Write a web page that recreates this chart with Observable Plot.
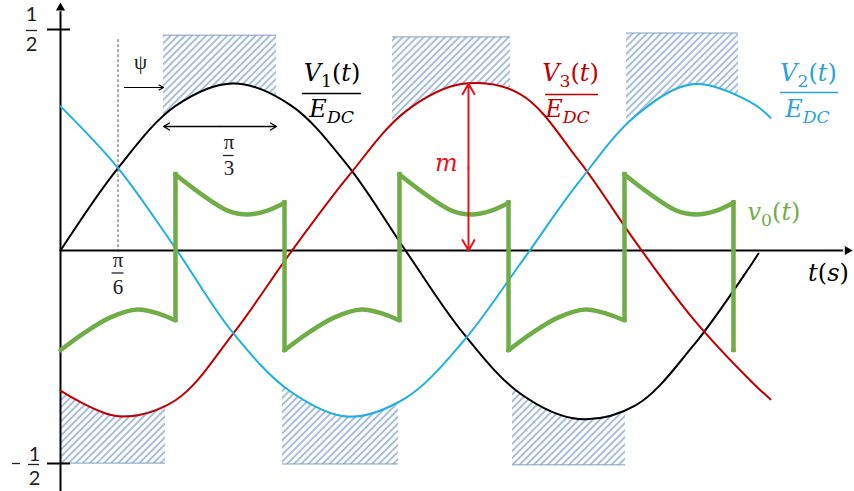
<!DOCTYPE html>
<html><head><meta charset="utf-8">
<script src="https://cdn.jsdelivr.net/npm/d3@7"></script>
<script src="https://cdn.jsdelivr.net/npm/@observablehq/plot@0.6"></script>
<style>body{margin:0;background:#fff;} #chart{width:854px;height:491px;}</style>
</head><body><div id="chart"></div>
<script>
// time axis in units of π (t/π); values normalised by E_DC
const v1T = [0, 1/6, 1/3, 1/2, 2/3, 5/6, 1, 7/6, 4/3, 3/2, 5/3, 11/6, 2, 2.023];
const v1V = [0, 0.19, 0.333, 0.385, 0.335, 0.195, 0, -0.19, -0.33, -0.388, -0.357, -0.22, -0.035, -0.007];
const v3T = [0, 1/6, 1/3, 1/2, 2/3, 5/6, 1, 7/6, 4/3, 3/2, 5/3, 11/6, 2, 2.058];
const v3V = [-0.323, -0.382, -0.345, -0.192, -0.005, 0.17, 0.32, 0.384, 0.36, 0.21, 0.02, -0.157, -0.30, -0.343];
const v2T = [0, 1/6, 1/3, 1/2, 2/3, 5/6, 1, 7/6, 4/3, 3/2, 5/3, 11/6, 2, 2.058];
const v2V = [0.332, 0.19, 0.005, -0.19, -0.325, -0.383, -0.34, -0.21, -0.03, 0.155, 0.31, 0.383, 0.342, 0.306];

// output voltage v0(t): arcs between switching instants
const v0T = [0, 0.0667, 0.1449, 0.2232, 0.2899, 0.3333,
             0.3333, 0.4058, 0.4841, 0.5420, 0.5999, 0.6493,
             0.6493, 0.7159, 0.7942, 0.8725, 0.9391, 0.9826,
             0.9826, 1.0551, 1.1333, 1.1913, 1.2493, 1.2986,
             1.2986, 1.3652, 1.4435, 1.5217, 1.5884, 1.6348,
             1.6348, 1.7072, 1.7855, 1.8435, 1.9014, 1.9507,
             1.9507];
const v0V = [-0.230, -0.191, -0.154, -0.136, -0.147, -0.161,
             0.175, 0.131, 0.092, 0.083, 0.092, 0.110,
             -0.230, -0.191, -0.154, -0.136, -0.147, -0.161,
             0.175, 0.131, 0.092, 0.083, 0.092, 0.110,
             -0.230, -0.191, -0.154, -0.136, -0.147, -0.161,
             0.175, 0.131, 0.092, 0.083, 0.092, 0.110,
             -0.230];
const v0Seg = [0,0,0,0,0,0, 1,1,1,1,1,1, 2,2,2,2,2,2, 3,3,3,3,3,3, 4,4,4,4,4,4, 5,5,5,5,5,5, 6];

// hatched conduction windows
const windowStart = [0.2986, 0.9623, 1.6406, 0, 0.6435, 1.3101];
const windowEnd   = [0.6261, 1.3043, 1.9652, 0.3043, 0.9797, 1.6377];
const windowLimit = [0.495, 0.491, 0.5, -0.491, -0.493, -0.495];
const windowPhase = ["V1", "V3", "V2", "V3", "V2", "V1"];

const yTicks = [0.5, -0.5];
const psiT = 1/6;
const mT = 1.1826;

const BLACK = "#000", RED = "#c00000", CYAN = "#1cb1e0", GREEN = "#70ad47", MRED = "#e8141c", LBLUE = "#2aa3d6";
const HATCH_EDGE = ["#7f9cc0", "#7f9cc1", "#7f9cc2", "#7f9cc3", "#7f9cc4", "#7f9cc5"];

const rows = (T, V) => T.map((t, i) => ({t, v: V[i]}));
const phases = {V1: rows(v1T, v1V), V2: rows(v2T, v2V), V3: rows(v3T, v3V)};
const v0Rows = v0T.map((t, i) => ({t, v: v0V[i], seg: v0Seg[i]}));
const segs = d3.groups(v0Rows, d => d.seg).map(g => g[1]);
const jumps = segs.slice(0, -1).map((s, i) => ({t: s[s.length-1].t, from: s[s.length-1].v, to: segs[i+1][0].v}));
const windows = windowStart.map((s, i) => ({s, e: windowEnd[i], lim: windowLimit[i], ph: windowPhase[i]}));

const xDomain = [-60/345, 794/345];
const yDomain = [-241/434, 250/434];

const math = (t, v, text, fill, size = 24, anchor = "middle") =>
  Plot.text([{t, v, text}], {x: "t", y: "v", text: "text", fill, fontSize: size, fontFamily: "DejaVu Serif", textAnchor: anchor});
const small = (data, opts) => Plot.text(data, {fontFamily: "Liberation Serif", fontSize: 21, fill: "#222", ...opts});
const frac = (data, opts) => Plot.text(data, {fontFamily: "Lato", fontSize: 20, fill: "#222", ...opts});

const w0 = windows[0];
const w0c = (w0.s + w0.e) / 2;
const arrowY = 0.2857;
const psiArrow = {x1: 0.1855, x2: w0.s, y: 0.3756};

const plot = Plot.plot({
  width: 854, height: 491, margin: 0,
  x: {domain: xDomain, axis: null},
  y: {domain: yDomain, axis: null},
  style: {background: "white", overflow: "visible"},
  marks: [
    // hatched windows (pattern + clipping applied afterwards)
    ...windows.map((w, i) => Plot.areaY(phases[w.ph], {
      x: "t",
      y1: w.lim > 0 ? (() => w.lim) : "v",
      y2: w.lim > 0 ? "v" : (() => w.lim),
      fill: "#dde8f4", stroke: HATCH_EDGE[i], strokeWidth: 1, curve: "catmull-rom"})),
    // axes
    Plot.ruleY([0], {x1: 0, x2: 2.27, stroke: BLACK, strokeWidth: 2}),
    Plot.ruleX([0], {y1: yDomain[0], y2: 0.55, stroke: BLACK, strokeWidth: 2}),
    Plot.dot([{t: 0, v: 0.559}], {x: "t", y: "v", symbol: "triangle", r: 3.4, fill: BLACK}),
    Plot.dot([{t: 2.281, v: 0}], {x: "t", y: "v", symbol: "triangle", r: 3.4, fill: BLACK, rotate: 90}),
    Plot.ruleY(yTicks, {x1: -13/345, x2: 10/345, stroke: BLACK, strokeWidth: 2, dy: -4}),
    // π/6 dashed marker
    Plot.ruleX([psiT], {y1: -0.005, y2: 0.488, stroke: "#333", strokeWidth: 0.8, strokeDasharray: "3,2"}),
    // phase voltages
    Plot.line(phases.V1, {x: "t", y: "v", stroke: BLACK, strokeWidth: 2, curve: "catmull-rom"}),
    Plot.line(phases.V3, {x: "t", y: "v", stroke: RED, strokeWidth: 2, curve: "catmull-rom"}),
    Plot.line(phases.V2, {x: "t", y: "v", stroke: CYAN, strokeWidth: 2, curve: "catmull-rom"}),
    // output voltage
    Plot.ruleX(jumps, {x: "t", y1: "from", y2: "to", stroke: GREEN, strokeWidth: 4.5, strokeLinecap: "square"}),
    Plot.line(v0Rows, {x: "t", y: "v", z: "seg", stroke: GREEN, strokeWidth: 4.5, curve: "catmull-rom"}),
    // arrows
    Plot.arrow([psiArrow], {x1: "x1", x2: "x2", y1: "y", y2: "y", stroke: BLACK, strokeWidth: 1.1, headLength: 7}),
    Plot.arrow([{a: w0c, b: w0.s}, {a: w0c, b: w0.e}], {x1: "a", x2: "b", y1: () => arrowY, y2: () => arrowY, stroke: BLACK, strokeWidth: 1.3, headLength: 8}),
    Plot.arrow([{a: 0.19, b: 0.384}, {a: 0.19, b: 0}], {x1: () => mT, x2: () => mT, y1: "a", y2: "b", stroke: MRED, strokeWidth: 2, headLength: 9}),
    // y labels 1/2 and -1/2
    frac([0.5], {x: () => 0, y: d => d, text: () => "1", dx: -29, dy: -18.5}),
    frac([0.5], {x: () => 0, y: d => d, text: () => "2", dx: -29, dy: 11}),
    Plot.ruleY([0.5], {x1: -34/345, x2: -23/345, dy: -3, stroke: "#222", strokeWidth: 1.3}),
    frac([-0.5], {x: () => 0, y: d => d, text: () => "1", dx: -26, dy: -13}),
    frac([-0.5], {x: () => 0, y: d => d, text: () => "2", dx: -26, dy: 11}),
    Plot.ruleY([-0.5], {x1: -32/345, x2: -21/345, dy: -3, stroke: "#222", strokeWidth: 1.3}),
    Plot.ruleY([-0.5], {x1: -48/345, x2: -40/345, dy: -4, stroke: "#222", strokeWidth: 1.3}),
    // π/6 label
    small([psiT], {x: d => d, y: () => 0, text: () => "π", dy: 10}),
    Plot.ruleY([0], {x1: psiT - 6/345, x2: psiT + 6/345, dy: 22.5, stroke: "#222", strokeWidth: 1.3}),
    small([psiT], {x: d => d, y: () => 0, text: () => "6", dy: 36.5}),
    // π/3 label
    small([w0c], {x: d => d, y: () => arrowY, text: () => "π", dx: 9, dy: 16}),
    Plot.ruleY([arrowY], {x1: w0c + 3.5/345, x2: w0c + 14/345, dy: 29, stroke: "#222", strokeWidth: 1.3}),
    small([w0c], {x: d => d, y: () => arrowY, text: () => "3", dx: 9, dy: 42}),
    // ψ
    small([psiArrow], {x: "x1", y: "y", text: () => "ψ", dx: 16, dy: -25}),
    // phase labels
    math(0.787, 0.408, "V_1(t)", BLACK),
    Plot.ruleY([0.3618], {x1: 0.7014, x2: 0.8725, stroke: BLACK, strokeWidth: 1.3}),
    math(0.786, 0.3249, "E_{DC}", BLACK),
    math(1.4783, 0.408, "V_3(t)", RED),
    Plot.ruleY([0.3594], {x1: 1.4058, x2: 1.5594, stroke: RED, strokeWidth: 1.3}),
    math(1.4696, 0.3249, "E_{DC}", RED),
    math(2.168, 0.408, "V_2(t)", LBLUE),
    Plot.ruleY([0.364], {x1: 2.087, x2: 2.255, stroke: LBLUE, strokeWidth: 1.3}),
    math(2.165, 0.3249, "E_{DC}", LBLUE),
    math(1.1188, 0.2005, "m", MRED),
    math(1.9913, 0.0876, "v_0(t)", GREEN, 24, "start"),
    math(2.226, -0.053, "t(s)", BLACK)
  ]
});

document.getElementById("chart").appendChild(plot);
const svg = d3.select(plot);

// math typesetting: letters italic, digits/punctuation upright, _x subscripts
try {
svg.selectAll('g[font-family="DejaVu Serif"] text').each(function() {
  const s = this.textContent;
  const fs = 24;
  const el = d3.select(this);
  el.text(null);
  const pieces = [];
  for (let i = 0; i < s.length; i++) {
    const ch = s[i];
    if (ch === "_") {
      let sub;
      if (s[i+1] === "{") { const j = s.indexOf("}", i); sub = s.slice(i+2, j); i = j; }
      else { sub = s[i+1]; i++; }
      pieces.push({text: sub, sub: true, italic: /[A-Za-z]/.test(sub)});
    } else {
      pieces.push({text: ch, sub: false, italic: /[A-Za-z]/.test(ch)});
    }
  }
  let shifted = false;
  const off = fs * 0.24;
  pieces.forEach(p => {
    const ts = el.append("tspan").text(p.text).attr("font-style", p.italic ? "italic" : "normal");
    if (p.sub) {
      ts.attr("font-size", fs * 0.72);
      if (!shifted) { ts.attr("dy", off); shifted = true; }
    } else if (shifted) { ts.attr("dy", -off); shifted = false; }
  });
});
} catch (e) { console.error(e); }

// hatch pattern + clip paths for the conduction windows
try {
const defs = svg.insert("defs", ":first-child");
const pat = defs.append("pattern").attr("id", "hatch").attr("patternUnits", "userSpaceOnUse")
  .attr("width", 5).attr("height", 10).attr("patternTransform", "rotate(45)");
pat.append("rect").attr("width", 5).attr("height", 10).attr("fill", "white");
pat.append("line").attr("x1", 1).attr("x2", 1).attr("y1", 0).attr("y2", 10).attr("stroke", "#6d94c6").attr("stroke-width", 1.2);
const sx = d3.scaleLinear(xDomain, [0, 854]);
windows.forEach((w, i) => {
  const a = sx(w.s), b = sx(w.e);
  defs.append("clipPath").attr("id", "clip" + i).append("rect")
    .attr("x", a).attr("y", 0).attr("width", b - a).attr("height", 491);
  const g = svg.selectAll(`g[stroke="${HATCH_EDGE[i]}"]`);
  g.attr("clip-path", `url(#clip${i})`).attr("fill", "url(#hatch)");
  g.selectAll("path").attr("fill", "url(#hatch)");
});
} catch (e) { console.error(e); }
</script>
</body></html>
